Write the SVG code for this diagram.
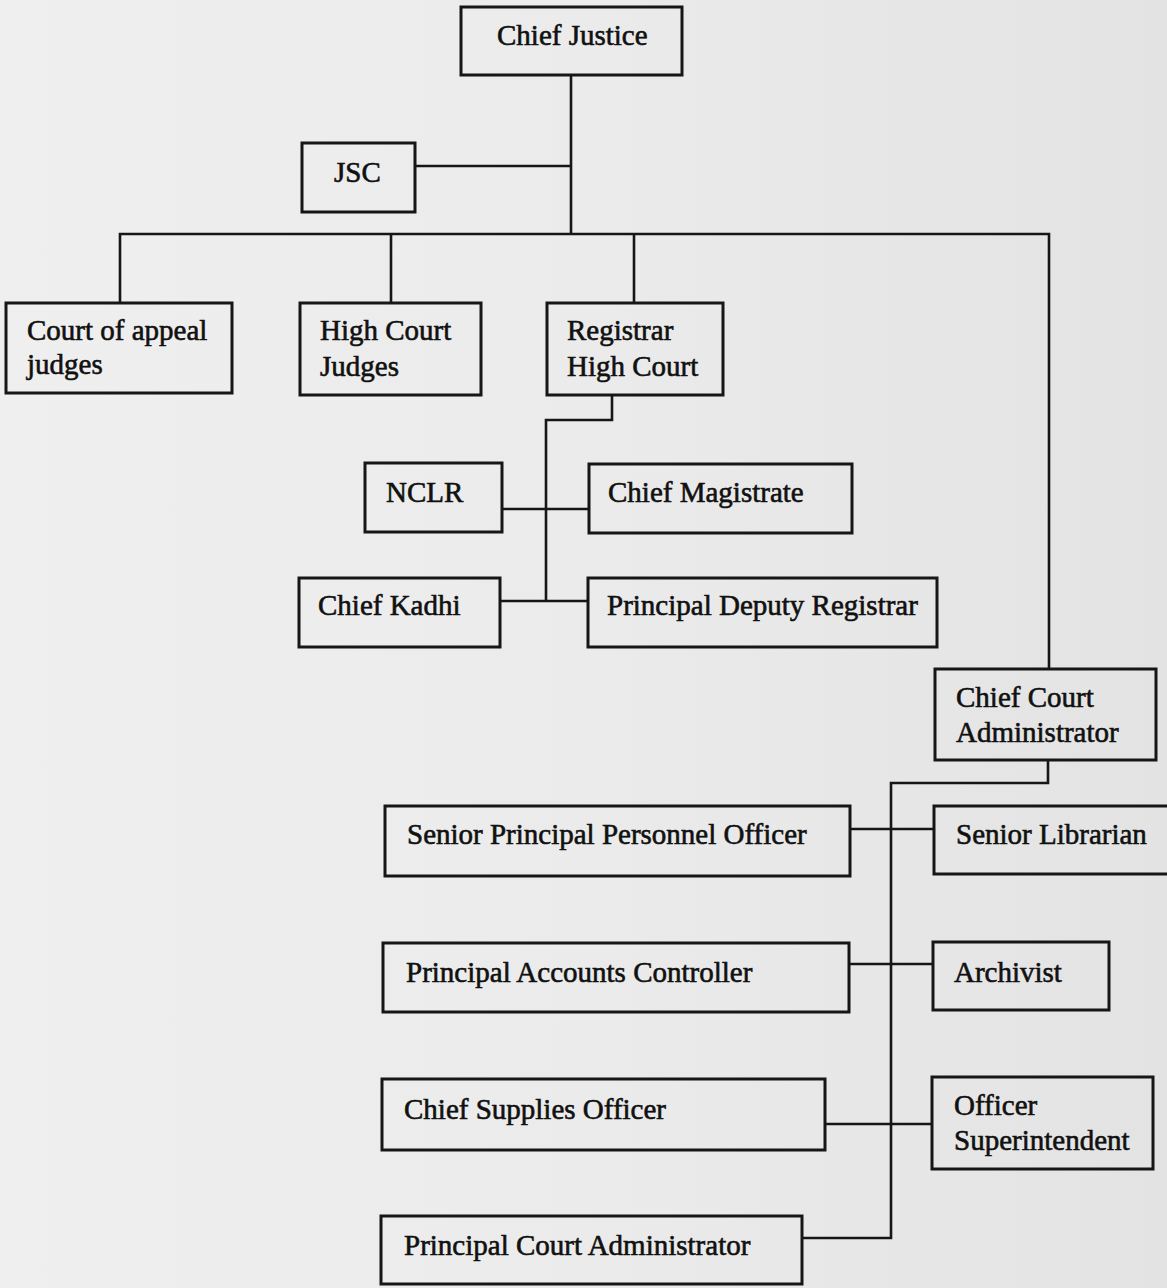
<svg xmlns="http://www.w3.org/2000/svg" width="1167" height="1288" viewBox="0 0 1167 1288">
<defs>
<linearGradient id="bg" x1="0" y1="0" x2="1" y2="0">
<stop offset="0" stop-color="#efefef"/>
<stop offset="0.5" stop-color="#ebebeb"/>
<stop offset="1" stop-color="#e3e3e3"/>
</linearGradient>
</defs>
<style>
.box{fill:none;stroke:#161616;stroke-width:3}
.ln{fill:none;stroke:#161616;stroke-width:2.6}
text{font-family:"Liberation Serif","Times New Roman",serif;font-size:29px;fill:#111;stroke:#111;stroke-width:0.6}
</style>
<rect x="0" y="0" width="1167" height="1288" fill="url(#bg)"/>
<g id="connectors">
<path class="ln" d="M571 75 V234"/>
<path class="ln" d="M415 166 H571"/>
<path class="ln" d="M120 302 V234 H1049 V669"/>
<path class="ln" d="M391 234 V302"/>
<path class="ln" d="M634 234 V303"/>
<path class="ln" d="M612 395 V420 H546 V601"/>
<path class="ln" d="M502 509 H589"/>
<path class="ln" d="M500 601 H588"/>
<path class="ln" d="M1048 760 V783 H891 V1238 H802"/>
<path class="ln" d="M850 829 H934"/>
<path class="ln" d="M849 964 H933"/>
<path class="ln" d="M825 1124 H932"/>
</g>
<g id="chief-justice"><rect class="box" x="461" y="7" width="221" height="68"/><text x="497" y="45">Chief Justice</text></g>
<g id="jsc"><rect class="box" x="302" y="143" width="113" height="69"/><text x="334" y="182">JSC</text></g>
<g id="court-of-appeal-judges"><rect class="box" x="6" y="303" width="226" height="90"/><text x="27" y="340">Court of appeal</text><text x="27" y="374">judges</text></g>
<g id="high-court-judges"><rect class="box" x="300" y="303" width="181" height="92"/><text x="320" y="340">High Court</text><text x="320" y="376">Judges</text></g>
<g id="registrar-high-court"><rect class="box" x="547" y="303" width="176" height="92"/><text x="567" y="340">Registrar</text><text x="567" y="376">High Court</text></g>
<g id="nclr"><rect class="box" x="365" y="463" width="137" height="69"/><text x="386" y="502">NCLR</text></g>
<g id="chief-magistrate"><rect class="box" x="589" y="464" width="263" height="69"/><text x="608" y="502">Chief Magistrate</text></g>
<g id="chief-kadhi"><rect class="box" x="299" y="578" width="201" height="69"/><text x="318" y="615">Chief Kadhi</text></g>
<g id="principal-deputy-registrar"><rect class="box" x="588" y="578" width="349" height="69"/><text x="607" y="615">Principal Deputy Registrar</text></g>
<g id="chief-court-administrator"><rect class="box" x="935" y="669" width="221" height="91"/><text x="956" y="707">Chief Court</text><text x="956" y="742">Administrator</text></g>
<g id="senior-principal-personnel-officer"><rect class="box" x="385" y="806" width="465" height="70"/><text x="407" y="844">Senior Principal Personnel Officer</text></g>
<g id="senior-librarian"><rect class="box" x="934" y="806" width="240" height="68"/><text x="956" y="844">Senior Librarian</text></g>
<g id="principal-accounts-controller"><rect class="box" x="383" y="943" width="466" height="69"/><text x="406" y="982">Principal Accounts Controller</text></g>
<g id="archivist"><rect class="box" x="933" y="942" width="176" height="68"/><text x="954" y="982">Archivist</text></g>
<g id="chief-supplies-officer"><rect class="box" x="382" y="1079" width="443" height="71"/><text x="404" y="1119">Chief Supplies Officer</text></g>
<g id="officer-superintendent"><rect class="box" x="932" y="1077" width="221" height="92"/><text x="954" y="1115">Officer</text><text x="954" y="1150">Superintendent</text></g>
<g id="principal-court-administrator"><rect class="box" x="381" y="1216" width="421" height="68"/><text x="404" y="1255">Principal Court Administrator</text></g>
</svg>
